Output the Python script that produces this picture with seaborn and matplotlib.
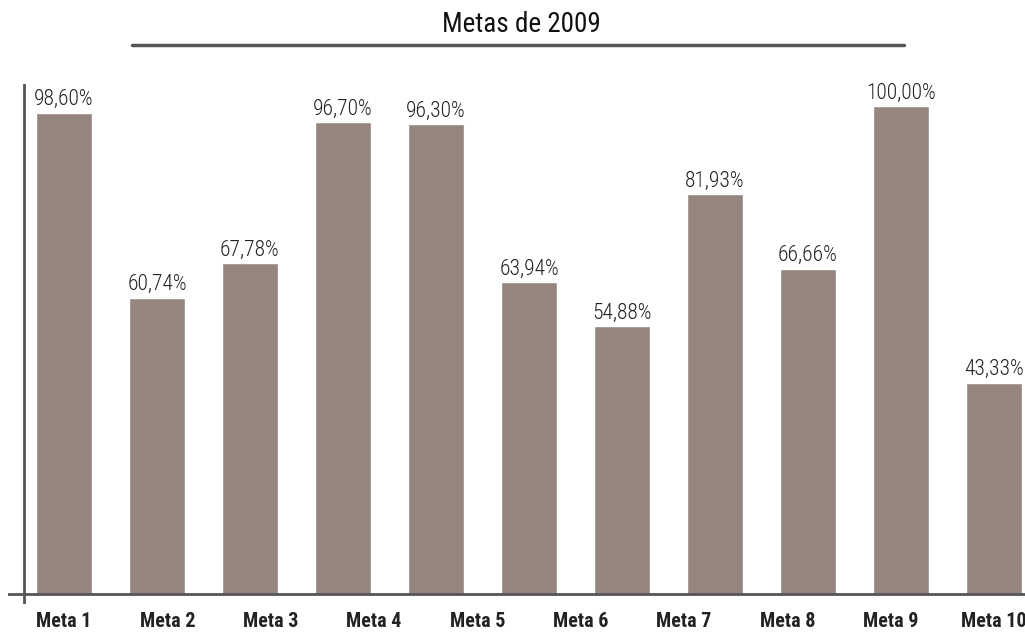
import numpy as np
import pandas as pd
import matplotlib
matplotlib.use("Agg")
import matplotlib.pyplot as plt
import seaborn as sns
from matplotlib.lines import Line2D
import logging
logging.getLogger("matplotlib.font_manager").setLevel(logging.ERROR)

# data
values = [98.60, 60.74, 67.78, 96.70, 96.30, 63.94, 54.88, 81.93, 66.66, 100.00, 43.33]
value_labels = ["98,60%", "60,74%", "67,78%", "96,70%", "96,30%", "63,94%",
                "54,88%", "81,93%", "66,66%", "100,00%", "43,33%"]
tick_labels = ["Meta 1", "Meta 2", "Meta 3", "Meta 4", "Meta 5",
               "Meta 6", "Meta 7", "Meta 8", "Meta 9", "Meta 10"]
title = "Metas de 2009"

df = pd.DataFrame({"pos": [str(i) for i in range(len(values))], "valor": values})

sns.set_style("white")
plt.rcParams["font.family"] = ["Roboto Condensed", "Archivo Narrow", "PT Sans Narrow",
                               "IBM Plex Sans Condensed", "DejaVu Sans"]

fig = plt.figure(figsize=(10.25, 6.32), dpi=100)
ax = fig.add_axes([8 / 1025, 28 / 632, 1017 / 1025, 520 / 632])

bar_color = "#94867f"
sns.barplot(data=df, x="pos", y="valor", color=bar_color, width=0.602,
            saturation=1, ax=ax)

for p, lab in zip(ax.patches, value_labels):
    ax.text(p.get_x() + p.get_width() / 2, p.get_height() + 0.5, lab,
            ha="center", va="bottom", fontsize=15.5, fontweight="light",
            color="#222222")

ax.set_xlim(-0.602, 10.333)
ax.set_ylim(-2.05, 104.5)
for s in ax.spines.values():
    s.set_visible(False)

# tick labels spread evenly across the axis, not aligned with the bars
ax.set_xticks(np.linspace(0, 10, len(tick_labels)))
ax.set_xticklabels(tick_labels, fontsize=14.5, fontweight="bold", color="#222222")
ax.tick_params(axis="x", length=0, pad=6)
ax.set_yticks([])
ax.set_xlabel("")
ax.set_ylabel("")

# axis lines (crosshair style)
ax.axhline(0, color="#555555", lw=2, zorder=3)
ax.axvline(-0.43, color="#555555", lw=2, zorder=3)

# title and underline
fig.text(521 / 1025, 1 - 25 / 632, title, ha="center", va="center",
         fontsize=19.5, fontweight="normal", color="#111111")
fig.add_artist(Line2D([132 / 1025, 904 / 1025], [1 - 45 / 632, 1 - 45 / 632],
                      color="#555555", lw=2.5, transform=fig.transFigure))

fig.savefig("out.png", dpi=100)
